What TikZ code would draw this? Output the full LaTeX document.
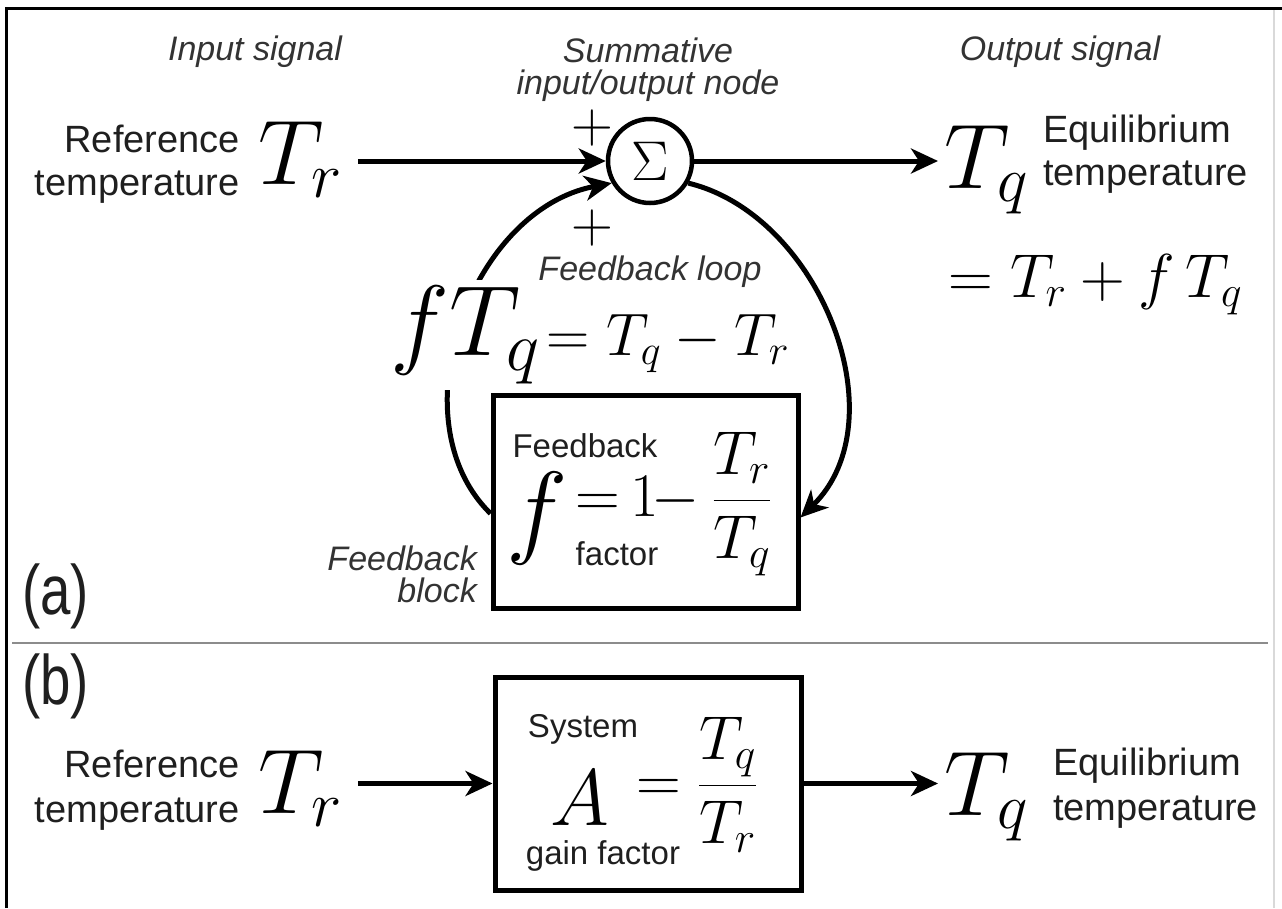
\RequirePackage{fix-cm}
\documentclass[tikz,border=0pt]{standalone}
\usepackage{fontspec}
\setmainfont{Liberation Sans}
\usetikzlibrary{arrows.meta,calc}
\tikzset{
  lab/.style={font=\fontsize{38}{40}\selectfont, inner sep=0, text=black!88},
  lbl/.style={font=\fontsize{33}{35}\selectfont, inner sep=0, text=black!88},
  ital/.style={font=\fontsize{34}{36}\selectfont\itshape, inner sep=0, text=black!80},
  bigmath/.style={font=\fontsize{92}{92}\selectfont, inner sep=0},
  midmath/.style={font=\fontsize{62}{62}\selectfont, inner sep=0},
  sumlabel/.style={font=\fontsize{70}{70}\selectfont\addfontfeature{FakeStretch=0.78}, inner sep=0, text=black!88},
  arr/.style={line width=5pt, -{Stealth[length=27pt,width=25pt,inset=8pt]}},
  boxs/.style={draw, line width=5pt, inner sep=0},
}
\begin{document}
\begin{tikzpicture}[x=1pt,y=-1pt]
\useasboundingbox[fill=white] (0,0) rectangle (1282,908);
% frame
\draw[line width=3pt] (6,908) -- (6,8) -- (1282,8);
\draw[black!15, line width=1.5pt] (1274,10) -- (1274,908);
% separator
\draw[black!45, line width=2.5pt] (12,643) -- (1268,643);

% ---------- (a) ----------
\node[ital, anchor=base] (insig) at (255,60) {Input signal};
\node[ital, anchor=base] (summ1) at (648,62) {Summative};
\node[ital, anchor=base] (summ2) at (648,94) {input/output node};
\node[ital, anchor=base] (outsig) at (1060,60) {Output signal};

\node[lab, anchor=base east] (ref1) at (240,152) {Reference};
\node[lab, anchor=base east] (tmp1) at (240,195) {temperature};
\node[bigmath, anchor=base west] (Tr1) at (258,184) {$T_r$};

\node[circle, draw, line width=4.5pt, minimum size=84pt, inner sep=0,
      font=\fontsize{56}{56}\selectfont] (sig) at (650,161) {$\Sigma$};
\node[font=\fontsize{58}{58}\selectfont, inner sep=0] (plus1) at (592,128) {$+$};
\node[font=\fontsize{58}{58}\selectfont, inner sep=0] (plus2) at (592,228) {$+$};

\node[bigmath, anchor=base west] (Tq1) at (944,188) {$T_q$};
\node[lab, anchor=base west] (eq1) at (1043,142) {Equilibrium};
\node[lab, anchor=base west] (tmp2) at (1043,185) {temperature};
\node[midmath, anchor=base west] (rel1) at (948,297) {$=T_r+f\,T_q$};

\draw[arr] ($(Tr1.east |- sig.west)+(16,0)$) -- (sig.west);
\draw[arr] (sig.east) -- ($(Tq1.west |- sig.east)+(-6,0)$);

% feedback block
\node[boxs, minimum width=305pt, minimum height=213pt] (fb) at (645.5,501.5) {};

% feedback loop arcs
\draw[arr] ([yshift=-12pt]fb.west) .. controls (395,420) and (470,210) .. (sig.210);
\draw[arr] (sig.-30) .. controls (820,215) and (900,420) .. ([yshift=-16pt]fb.east);

\node[fill=white, inner xsep=0, inner ysep=6pt, anchor=base west] (loopeq) at (390,355)
  {{\fontsize{100}{100}\selectfont$fT_q$}{\fontsize{60}{60}\selectfont$\mkern2mu=T_q-T_r$}};
\node[ital, anchor=base] (fbloop) at (650,280) {Feedback loop};

\node[lbl, anchor=base] (fbt1) at (585,457) {Feedback};
\node[font=\fontsize{104}{104}\selectfont, inner sep=0, anchor=base west] (ff) at (506,544) {$f$};
\node[midmath, anchor=base west] (feq) at (575,516) {$=\mkern-2mu 1\mkern-2mu{-}$};
\node[midmath, anchor=base west] (ffr) at ($(feq.base east)+(12,0)$) {$\displaystyle\frac{T_r}{T_q}$};
\node[lbl, anchor=base] (fbt2) at (617,565) {factor};

\node[ital, anchor=base east] (fbb1) at (477,570) {Feedback};
\node[ital, anchor=base east] (fbb2) at (477,602) {block};
\node[sumlabel, anchor=base west] (la) at (22,614) {(a)};

% ---------- (b) ----------
\node[sumlabel, anchor=base west] (lb) at (22,704) {(b)};
\node[lab, anchor=base east] (ref3) at (240,777) {Reference};
\node[lab, anchor=base east] (tmp3) at (240,822) {temperature};
\node[bigmath, anchor=base west] (Tr2) at (258,813) {$T_r$};

\node[boxs, minimum width=306pt, minimum height=213pt] (gb) at (648,783.5) {};
\node[lbl, anchor=base] (sys1) at (583,737) {System};
\node[font=\fontsize{80}{80}\selectfont, inner sep=0, anchor=base west] (AA) at (550,825) {$A$};
\node[midmath, anchor=base west] (Aeq) at (636,801) {$\displaystyle=\frac{T_q}{T_r}$};
\node[lbl, anchor=base] (sys2) at (603,864) {gain factor};

\node[bigmath, anchor=base west] (Tq2) at (944,815) {$T_q$};
\node[lab, anchor=base west] (eq3) at (1053,775) {Equilibrium};
\node[lab, anchor=base west] (tmp4) at (1053,820) {temperature};

\draw[arr] ($(Tr2.east |- gb.west)+(16,0)$) -- (gb.west);
\draw[arr] (gb.east) -- ($(Tq2.west |- gb.east)+(-6,0)$);
\end{tikzpicture}
\end{document}
